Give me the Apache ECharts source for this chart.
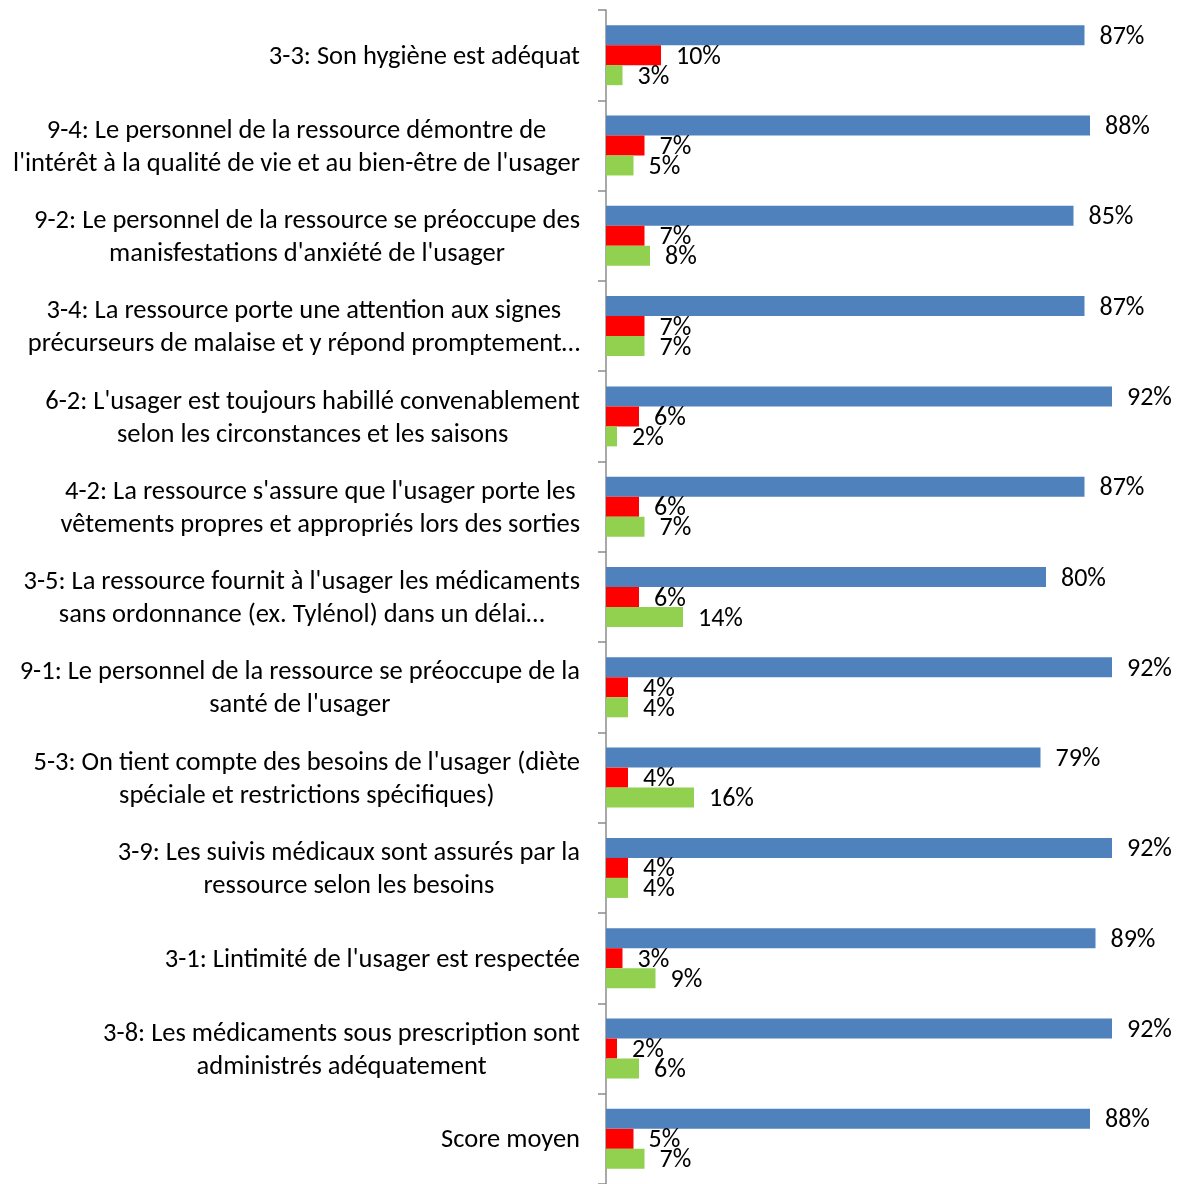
<!DOCTYPE html>
<html>
<head>
<meta charset="utf-8">
<script src="https://cdn.jsdelivr.net/npm/echarts@6/dist/echarts.min.js"></script>
<style>
  html, body { margin: 0; padding: 0; background: #fff; }
  #chart { width: 1180px; height: 1184px; }
</style>
</head>
<body>
<div id="chart"></div>
<script>
// Questionnaire items, top to bottom
const categories = [
  "3-3: Son hygiène est adéquat",
  "9-4: Le personnel de la ressource démontre de\nl'intérêt à la qualité de vie et au bien-être de l'usager",
  "9-2: Le personnel de la ressource se préoccupe des\nmanisfestations d'anxiété de l'usager",
  "3-4: La ressource porte une attention aux signes\nprécurseurs de malaise et y répond promptement…",
  "6-2: L'usager est toujours habillé convenablement\nselon les circonstances et les saisons",
  "4-2: La ressource s'assure que l'usager porte les\nvêtements propres et appropriés lors des sorties",
  "3-5: La ressource fournit à l'usager les médicaments\nsans ordonnance (ex. Tylénol) dans un délai…",
  "9-1: Le personnel de la ressource se préoccupe de la\nsanté de l'usager",
  "5-3: On tient compte des besoins de l'usager (diète\nspéciale et restrictions spécifiques)",
  "3-9: Les suivis médicaux sont assurés par la\nressource selon les besoins",
  "3-1: Lintimité de l'usager est respectée",
  "3-8: Les médicaments sous prescription sont\nadministrés adéquatement",
  "Score moyen"
];

// Percentages per item (blue, red, green bars)
const blueValues  = [87, 88, 85, 87, 92, 87, 80, 92, 79, 92, 89, 92, 88];
const redValues   = [10, 7, 7, 7, 6, 6, 6, 4, 4, 4, 3, 2, 5];
const greenValues = [3, 5, 8, 7, 2, 7, 14, 4, 16, 4, 9, 6, 7];

const FONT = "Carlito, Calibri, Lato, sans-serif";

const chart = echarts.init(document.getElementById('chart'));

function barSeries(name, data, color) {
  return {
    name: name,
    type: 'bar',
    data: data,
    barWidth: 20,
    barGap: '0%',
    itemStyle: { color: color },
    label: {
      show: true,
      position: 'right',
      distance: 15,
      offset: [0, 2],
      formatter: '{c}%',
      color: '#000',
      fontFamily: FONT,
      fontSize: 26
    },
    animation: false
  };
}

chart.setOption({
  animation: false,
  grid: { left: 606, top: 10, width: 550, height: 1178 },
  xAxis: {
    type: 'value',
    min: 0,
    max: 100,
    show: false
  },
  yAxis: {
    type: 'category',
    data: categories,
    inverse: true,
    axisLine: { show: true, lineStyle: { color: '#8c8c8c', width: 1.5 } },
    axisTick: { show: true, length: 8, lineStyle: { color: '#8c8c8c', width: 1.5 } },
    axisLabel: {
      margin: 26,
      align: 'right',
      padding: [4, 0, 0, 0],
      formatter: function (v) { return '{c|' + v + '}'; },
      rich: {
        c: {
          align: 'center',
          fontFamily: FONT,
          fontSize: 26.5,
          lineHeight: 33,
          color: '#000'
        }
      }
    }
  },
  series: [
    barSeries('A', blueValues, '#4F81BD'),
    barSeries('B', redValues, '#FF0000'),
    barSeries('C', greenValues, '#92D050')
  ]
});
</script>
</body>
</html>
